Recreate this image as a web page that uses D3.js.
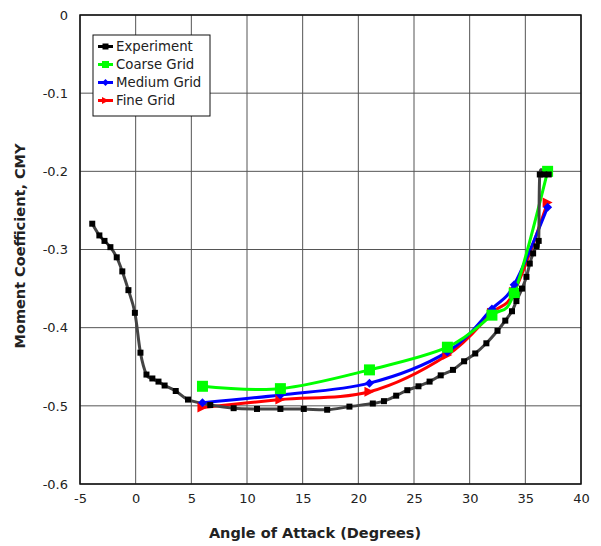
<!DOCTYPE html>
<html>
<head>
<meta charset="utf-8">
<script src="https://cdn.jsdelivr.net/npm/d3@7"></script>
<style>
  body { margin: 0; background: #fff; }
  text { font-family: "DejaVu Sans", sans-serif; fill: #222; }
</style>
</head>
<body>
<div id="chart"></div>
<script>
// experiment data
var expX = [-3.9, -3.26, -2.8, -2.27, -1.7, -1.2, -0.65, -0.07, 0.43, 0.97, 1.5, 2.05, 2.6, 3.6, 4.7,
  6.7, 8.8, 10.9, 13.0, 15.1, 17.2, 19.2, 21.3, 22.3, 23.4, 24.4, 25.4, 26.4, 27.4, 28.5, 29.5, 30.5,
  31.5, 32.5, 33.2, 33.8, 34.2, 34.7, 35.1, 35.4, 35.7, 36.0, 36.2, 36.3, 36.7, 37.1];
var expY = [-0.267, -0.282, -0.289, -0.297, -0.310, -0.328, -0.352, -0.381, -0.432, -0.460, -0.465, -0.469, -0.474, -0.481, -0.492,
  -0.499, -0.503, -0.504, -0.504, -0.504, -0.505, -0.501, -0.497, -0.494, -0.487, -0.480, -0.475, -0.469, -0.461, -0.454, -0.443, -0.433,
  -0.420, -0.404, -0.391, -0.379, -0.366, -0.350, -0.335, -0.318, -0.305, -0.296, -0.289, -0.204, -0.204, -0.204];

// CFD grids
var gridX = [6, 13, 21, 28, 32, 34, 37];
var coarseY = [-0.475, -0.478, -0.454, -0.425, -0.384, -0.356, -0.200];
var mediumY = [-0.496, -0.486, -0.471, -0.431, -0.376, -0.345, -0.246];
var fineY = [-0.502, -0.492, -0.482, -0.435, -0.381, -0.354, -0.240];

var xTicks = [-5, 0, 5, 10, 15, 20, 25, 30, 35, 40];
var yTicks = [0, -0.1, -0.2, -0.3, -0.4, -0.5, -0.6];

var margin = { top: 15, right: 20, bottom: 62, left: 80 },
  width = 601 - margin.left - margin.right,
  height = 546 - margin.top - margin.bottom;

var x = d3.scaleLinear().domain([-5, 40]).range([0, width]);
var y = d3.scaleLinear().domain([-0.6, 0]).range([height, 0]);

var svg = d3.select("#chart").append("svg")
  .attr("width", 601)
  .attr("height", 546);

var g = svg.append("g")
  .attr("transform", "translate(" + margin.left + "," + margin.top + ")");

// grid
g.selectAll(".vgrid").data(xTicks).enter().append("line")
  .attr("x1", function (d) { return x(d); }).attr("x2", function (d) { return x(d); })
  .attr("y1", 0).attr("y2", height)
  .attr("stroke", "#555").attr("stroke-width", 1);
g.selectAll(".hgrid").data(yTicks).enter().append("line")
  .attr("y1", function (d) { return y(d); }).attr("y2", function (d) { return y(d); })
  .attr("x1", 0).attr("x2", width)
  .attr("stroke", "#555").attr("stroke-width", 1);

// plain hyphen minus, like the original
function fmt(d) { return d === 0 ? "0" : String(d); }

var xAxis = d3.axisBottom(x).tickValues(xTicks).tickSize(0).tickPadding(10).tickFormat(fmt);
var yAxis = d3.axisLeft(y).tickValues(yTicks).tickSize(0).tickPadding(12).tickFormat(fmt);

g.append("g").attr("transform", "translate(0," + height + ")").call(xAxis)
  .call(function (s) { s.select(".domain").remove(); })
  .selectAll("text").style("font-size", "13px").style("font-family", "DejaVu Sans").attr("fill", "#222");
g.append("g").call(yAxis)
  .call(function (s) { s.select(".domain").remove(); })
  .selectAll("text").style("font-size", "13px").style("font-family", "DejaVu Sans").attr("fill", "#222");

g.append("rect")
  .attr("width", width).attr("height", height)
  .attr("fill", "none").attr("stroke", "#111").attr("stroke-width", 1.5);

// axis titles
svg.append("text")
  .attr("x", 315).attr("y", 538)
  .attr("text-anchor", "middle")
  .style("font-size", "14.5px").style("font-weight", "bold")
  .attr("fill", "#111")
  .text("Angle of Attack (Degrees)");
svg.append("text")
  .attr("transform", "translate(25,246) rotate(-90)")
  .attr("text-anchor", "middle")
  .style("font-size", "14.5px").style("font-weight", "bold")
  .attr("fill", "#111")
  .text("Moment Coefficient, CMY");

var series = [
  { name: "Experiment", xs: expX, ys: expY, color: "#000", line: "#444", lw: 3, marker: "square", size: 6 },
  { name: "Coarse Grid", xs: gridX, ys: coarseY, color: "#00ff00", line: "#00ff00", lw: 3, marker: "bigsquare", size: 11 },
  { name: "Medium Grid", xs: gridX, ys: mediumY, color: "#0000ff", line: "#0000ff", lw: 3, marker: "diamond", size: 9 },
  { name: "Fine Grid", xs: gridX, ys: fineY, color: "#ff0000", line: "#ff0000", lw: 3, marker: "triangle", size: 10 }
];

function pts(s) {
  return s.xs.map(function (d, i) { return [d, s.ys[i]]; });
}

function markerPath(type, s) {
  var h = s / 2;
  if (type === "diamond") return "M0," + (-h) + "L" + h + ",0L0," + h + "L" + (-h) + ",0Z";
  if (type === "triangle") return "M" + (h) + ",0L" + (-h) + "," + (-h) + "L" + (-h) + "," + h + "Z";
  return "M" + (-h) + "," + (-h) + "H" + h + "V" + h + "H" + (-h) + "Z";
}

var line = d3.line()
  .x(function (d) { return x(d[0]); })
  .y(function (d) { return y(d[1]); })
  .curve(d3.curveCardinal.tension(0));

var order = series.slice().reverse();

order.forEach(function (s) {
  g.append("path")
    .datum(pts(s))
    .attr("d", line)
    .attr("fill", "none")
    .attr("stroke", s.line)
    .attr("stroke-width", s.lw);
});

order.forEach(function (s) {
  g.selectAll(".m-" + s.marker)
    .data(pts(s))
    .enter().append("path")
    .attr("transform", function (d) { return "translate(" + x(d[0]) + "," + y(d[1]) + ")"; })
    .attr("d", markerPath(s.marker, s.size))
    .attr("fill", s.color);
});

// legend
var leg = svg.append("g").attr("transform", "translate(93,35)");
leg.append("rect")
  .attr("width", 117).attr("height", 81)
  .attr("fill", "#fff").attr("stroke", "#111").attr("stroke-width", 1);

series.forEach(function (s, i) {
  var ly = 11.5 + i * 18;
  leg.append("line")
    .attr("x1", 5).attr("x2", 20).attr("y1", ly).attr("y2", ly)
    .attr("stroke", s.color).attr("stroke-width", 3);
  leg.append("path")
    .attr("transform", "translate(12.5," + ly + ")")
    .attr("d", markerPath(s.marker, Math.min(s.size, 7)))
    .attr("fill", s.color);
  leg.append("text")
    .attr("x", 23).attr("y", ly + 4.5)
    .style("font-size", "13.3px")
    .attr("fill", "#222")
    .text(s.name);
});
</script>
</body>
</html>
